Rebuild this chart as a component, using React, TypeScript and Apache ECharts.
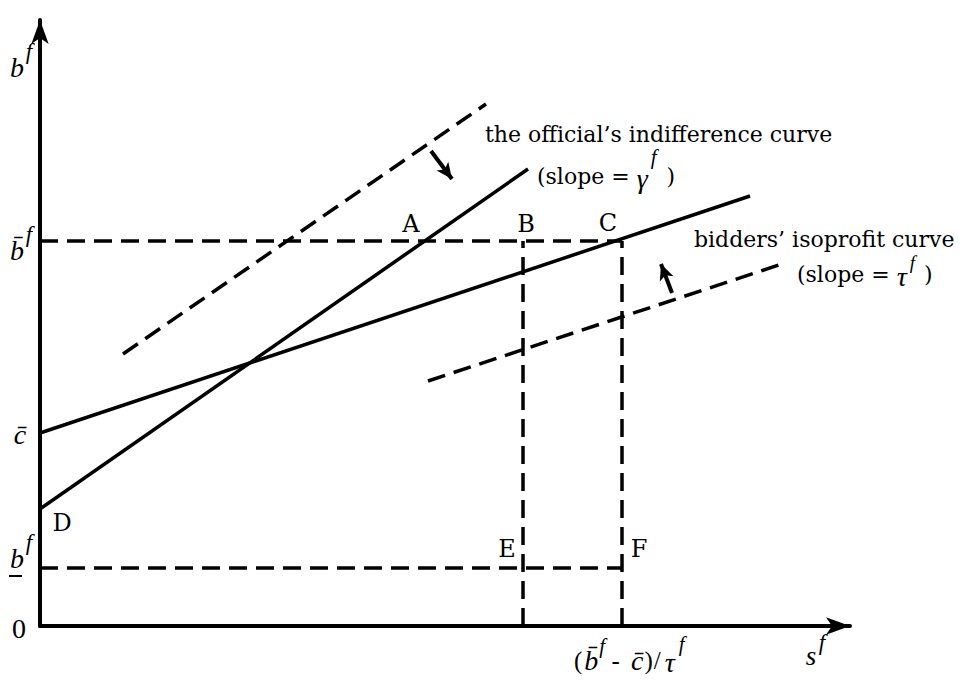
import React, { useEffect, useRef } from "react";
import * as echarts from "echarts";

// Diagram coordinates (abstract units: s on x, b on y)
const officialCurve = [[0, 117], [488, 457]];
const officialShifted = [[83, 272], [446, 522]];
const bidderCurve = [[0, 193], [710, 430]];
const bidderShifted = [[388, 245], [745, 363]];
const bBarLevel = [[0, 385], [582, 385]];
const bUnderLevel = [[0, 58], [582, 58]];
const verticalB = [[483, 0], [483, 385]];
const verticalC = [[582, 0], [582, 385]];
const arrowOfficial = [[391, 475], [412, 447]];
const arrowBidder = [[632, 333], [621, 362]];

const ROMAN = "DejaVu Serif";
const MATH = "Liberation Serif";
const N = `22px "${ROMAN}"`;
const R = `25px "${MATH}"`;
const M = `italic 28px "${MATH}"`;
const S = `italic 21px "${MATH}"`;
const S2 = `italic 19px "${MATH}"`;

type Piece = { t: string; font: string; dy?: number; gap?: number };

let measureCtx: CanvasRenderingContext2D | null = null;
function measure(t: string, font: string) {
  if (!measureCtx) measureCtx = document.createElement("canvas").getContext("2d");
  if (!measureCtx) return t.length * 10;
  measureCtx.font = font;
  return measureCtx.measureText(t).width;
}

function seq(x0: number, y: number, pieces: Piece[]) {
  const out: any[] = [];
  let x = x0;
  for (const p of pieces) {
    x += p.gap || 0;
    out.push({
      type: "text",
      x,
      y: y + (p.dy || 0),
      style: { text: p.t, fill: "#000", font: p.font, textAlign: "left", textVerticalAlign: "middle" },
    });
    x += measure(p.t, p.font);
  }
  return out;
}

function lineSeries(name: string, data: number[][], dashed: boolean) {
  return {
    name,
    type: "line",
    data,
    showSymbol: false,
    symbol: "none",
    silent: true,
    lineStyle: {
      color: "#000",
      width: 3.5,
      type: dashed ? [18, 9] : "solid",
    },
  };
}

function txt(text: string, x: number, y: number, font: string) {
  return {
    type: "text",
    x,
    y,
    style: { text, fill: "#000", font, textAlign: "center", textVerticalAlign: "middle" },
  };
}

export default function App() {
  const ref = useRef<HTMLDivElement>(null);
  useEffect(() => {
    if (!ref.current) return;
    const chart = echarts.init(ref.current, null, { renderer: "svg" });
    const arrowMark = (pts: number[][]) => ({
      silent: true,
      symbol: ["none", "arrow"],
      symbolSize: [11, 16],
      label: { show: false },
      lineStyle: { color: "#000", width: 4, type: "solid" },
      data: [[{ coord: pts[0] }, { coord: pts[1] }]],
    });
    const letter = `24px "${ROMAN}"`;
    const axisCommon = {
      type: "value",
      axisLine: {
        show: true,
        symbol: ["none", "arrow"],
        symbolSize: [13, 24],
        lineStyle: { color: "#000", width: 4 },
      },
      axisTick: { show: false },
      axisLabel: { show: false },
      splitLine: { show: false },
    };
    chart.setOption({
      animation: false,
      backgroundColor: "#fff",
      grid: { left: 40, right: 122, top: 20, bottom: 56 },
      xAxis: { ...axisCommon, min: 0, max: 810 },
      yAxis: { ...axisCommon, min: 0, max: 606 },
      series: [
        lineSeries("official", officialCurve, false),
        lineSeries("bidder", bidderCurve, false),
        lineSeries("officialShifted", officialShifted, true),
        lineSeries("bidderShifted", bidderShifted, true),
        lineSeries("bBar", bBarLevel, true),
        lineSeries("bUnder", bUnderLevel, true),
        lineSeries("vB", verticalB, true),
        lineSeries("vC", verticalC, true),
        { type: "line", data: [], markLine: arrowMark(arrowOfficial) },
        { type: "line", data: [], markLine: arrowMark(arrowBidder) },
      ],
      graphic: [
        // y axis label
        txt("b", 17, 67, `italic 28px "${MATH}"`),
        txt("f", 29, 51, `italic 23px "${MATH}"`),
        // b bar
        txt("b\u0304", 17, 250, `italic 28px "${MATH}"`),
        txt("f", 29, 234, `italic 23px "${MATH}"`),
        // c bar
        txt("c\u0304", 20, 434, `italic 28px "${MATH}"`),
        // b underbar
        txt("b", 17, 558, `italic 28px "${MATH}"`),
        { type: "rect", shape: { x: 9, y: 575, width: 13, height: 2 }, style: { fill: "#000" } },
        txt("f", 29, 542, `italic 23px "${MATH}"`),
        // zero
        txt("0", 19, 628, `28px "${MATH}"`),
        // point labels
        txt("D", 62, 523, letter),
        txt("A", 411, 224, letter),
        txt("B", 526, 224, letter),
        txt("C", 608, 223, letter),
        txt("E", 507, 549, letter),
        txt("F", 639, 549, letter),
        // curve captions
        ...seq(485, 134, [{ t: "the official\u2019s indifference curve", font: N }]),
        ...seq(537, 176, [
          { t: "(slope = ", font: N },
          { t: "\u03b3", font: M, dy: 2 },
          { t: "f", font: S, dy: -19, gap: 3 },
          { t: " )", font: N, gap: 3 },
        ]),
        ...seq(694, 239, [{ t: "bidders\u2019 isoprofit curve", font: N }]),
        ...seq(797, 274, [
          { t: "(slope = ", font: N },
          { t: "\u03c4", font: M, dy: 2 },
          { t: "f", font: S2, dy: -12, gap: 3 },
          { t: " )", font: N, gap: 2 },
        ]),
        // x axis labels
        ...seq(574, 660, [
          { t: "(", font: R },
          { t: "b\u0304", font: M, gap: 2 },
          { t: "f", font: S, dy: -14, gap: 1 },
          { t: " - ", font: R },
          { t: "c\u0304", font: M, gap: 5 },
          { t: ")", font: R, gap: 1 },
          { t: "/", font: R, gap: 1 },
          { t: "\u03c4", font: M, gap: 4, dy: 2 },
          { t: "f", font: S, dy: -16, gap: 4 },
        ]),
        txt("s", 811, 656, `italic 27px "${MATH}"`),
        txt("f", 822, 642, `italic 23px "${MATH}"`),
      ],
    });
    return () => chart.dispose();
  }, []);
  return <div ref={ref} style={{ width: 972, height: 682, margin: -8 }} />;
}
